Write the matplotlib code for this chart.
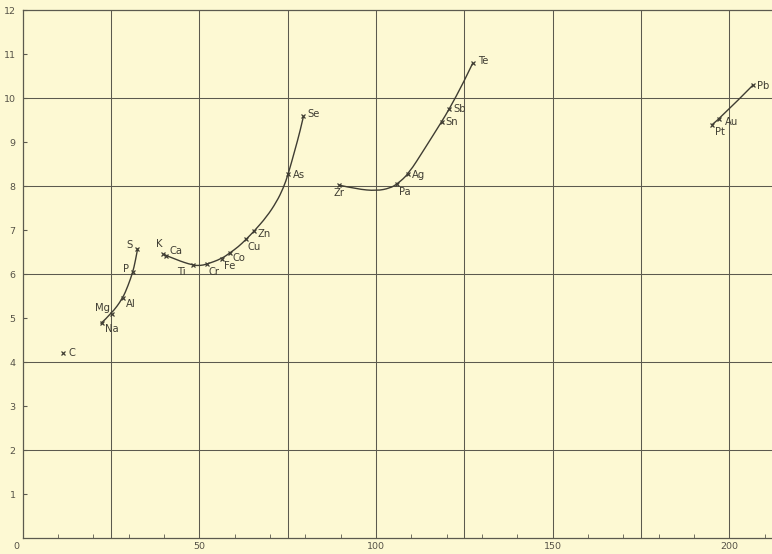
import matplotlib
matplotlib.use("Agg")
import matplotlib.pyplot as plt
import matplotlib.transforms as mtrans
from matplotlib.path import Path
from matplotlib.patches import PathPatch

# Elements: atomic weight (x) and plotted quantity (y)
elements = ["C", "Na", "Mg", "Al", "P", "S", "K", "Ca", "Ti", "Cr", "Fe", "Co",
            "Cu", "Zn", "As", "Se", "Zr", "Pa", "Ag", "Sn", "Sb", "Te",
            "Pt", "Au", "Pb"]
weights = [11.5, 22.4, 25.2, 28.3, 31.2, 32.5, 39.9, 40.6, 48.2, 52.1, 56.4, 58.7,
           63.3, 65.5, 75.2, 79.5, 89.6, 106.1, 109.2, 118.6, 120.7, 127.4,
           195.1, 197.2, 206.8]
values = [4.20, 4.89, 5.10, 5.45, 6.04, 6.57, 6.45, 6.42, 6.20, 6.22, 6.35, 6.48,
          6.79, 6.97, 8.27, 9.58, 8.02, 8.05, 8.27, 9.46, 9.74, 10.79,
          9.39, 9.52, 10.30]

# Traced curves joining the element groups
curve1_x = [22.1, 25.2, 28.3, 29.9, 31.2, 31.9, 32.6]
curve1_y = [4.87, 5.10, 5.44, 5.74, 6.04, 6.28, 6.58]
curve2_x = [39.85, 43.6, 48.2, 50.2, 52.1, 56.4, 58.7, 61.1, 63.3, 65.5,
            69.1, 71.9, 73.8, 75.2, 77.1, 78.5, 79.5]
curve2_y = [6.45, 6.32, 6.20, 6.19, 6.22, 6.35, 6.48, 6.62, 6.79, 6.97,
            7.30, 7.64, 7.95, 8.27, 8.82, 9.23, 9.58]
curve3_x = [89.6, 94.6, 100.2, 104.0, 106.1, 109.2, 113.9, 118.6, 120.7, 124.8, 127.4]
curve3_y = [8.02, 7.93, 7.89, 7.95, 8.05, 8.27, 8.86, 9.46, 9.74, 10.35, 10.79]
curve4_x = [195.1, 197.2, 206.8]
curve4_y = [9.39, 9.52, 10.30]

x_ticks = [0, 50, 100, 150, 200]
y_ticks = list(range(1, 13))

# label placement: (dx, dy) in pixels, horizontal alignment
label_pos = {
    "C": (5, 0, "left"), "Na": (3, -6, "left"), "Mg": (-2, 6, "right"),
    "Al": (3, -6, "left"), "P": (-4, 3, "right"), "S": (-5, 4, "right"),
    "K": (-4, 10, "center"), "Ca": (4, 5, "left"), "Ti": (-7, -7, "right"),
    "Cr": (2, -8, "left"), "Fe": (2, -7, "left"), "Co": (3, -5, "left"),
    "Cu": (1, -8, "left"), "Zn": (4, -3, "left"), "As": (5, -1, "left"),
    "Se": (4, 2, "left"), "Zr": (0, -8, "center"), "Pa": (7, -8, "center"),
    "Ag": (4, -1, "left"), "Sn": (4, 0, "left"), "Sb": (4, 0, "left"),
    "Te": (5, 2, "left"), "Pt": (3, -7, "left"), "Au": (6, -3, "left"),
    "Pb": (4, -1, "left"),
}

bg = "#fdf9d3"
ink = "#3f3d33"
grid_c = "#5c5a4e"


def smooth_path(xs, ys):
    """Quadratic-Bezier path through midpoints, using traced points as controls."""
    pts = list(zip(xs, ys))
    if len(pts) < 3:
        return Path(pts, [Path.MOVETO] + [Path.LINETO] * (len(pts) - 1))
    verts = [pts[0]]
    codes = [Path.MOVETO]
    for i in range(1, len(pts) - 1):
        mid = ((pts[i][0] + pts[i + 1][0]) / 2, (pts[i][1] + pts[i + 1][1]) / 2)
        if i == len(pts) - 2:
            mid = pts[-1]
        verts += [pts[i], mid]
        codes += [Path.CURVE3, Path.CURVE3]
    return Path(verts, codes)


fig = plt.figure(figsize=(7.72, 5.54), dpi=100, facecolor=bg)
ax = fig.add_axes([22.5 / 772, 16 / 554, 1 - 22.5 / 772, 528 / 554])
ax.set_facecolor(bg)
ax.set_xlim(0, 212.1)
ax.set_ylim(0, 12)

# grid every 25 in x, every 2 in y
for gx in range(25, 212, 25):
    ax.axvline(gx, color=grid_c, lw=0.75, zorder=1)
for gy in range(2, 12, 2):
    ax.axhline(gy, color=grid_c, lw=0.75, zorder=1)

for cx, cy in [(curve1_x, curve1_y), (curve2_x, curve2_y),
               (curve3_x, curve3_y), (curve4_x, curve4_y)]:
    ax.add_patch(PathPatch(smooth_path(cx, cy), facecolor="none",
                           edgecolor=ink, lw=1.0, zorder=3))

ax.plot(weights, values, ls="none", marker="x", ms=3.2, mew=0.9,
        color=ink, zorder=4)

for name, wx, vy in zip(elements, weights, values):
    dx, dy, ha = label_pos[name]
    ax.annotate(name, (wx, vy), xytext=(dx, dy), textcoords="offset pixels",
                ha=ha, va="center", fontsize=7.2, color=ink,
                family="DejaVu Sans", zorder=5)

for side in ["top", "left", "bottom"]:
    ax.spines[side].set_color(grid_c)
    ax.spines[side].set_linewidth(0.9)
ax.spines["right"].set_visible(False)

ax.set_xticks(range(0, 212, 10), minor=True)
ax.set_xticks(x_ticks)
ax.set_xticklabels([str(t) for t in x_ticks])
ax.set_yticks(y_ticks)
ax.set_yticklabels([str(t) for t in y_ticks])
ax.tick_params(axis="both", which="both", direction="in", color=grid_c,
               labelsize=6.8, labelcolor="#555247")
ax.tick_params(axis="x", which="major", length=0, pad=3)
ax.tick_params(axis="x", which="minor", length=3)
ax.tick_params(axis="y", length=3, pad=5)

first = ax.get_xticklabels()[0]
first.set_transform(first.get_transform() +
                    mtrans.ScaledTranslation(-6 / 100, 0, fig.dpi_scale_trans))

fig.savefig("out.png", dpi=100, facecolor=bg)
